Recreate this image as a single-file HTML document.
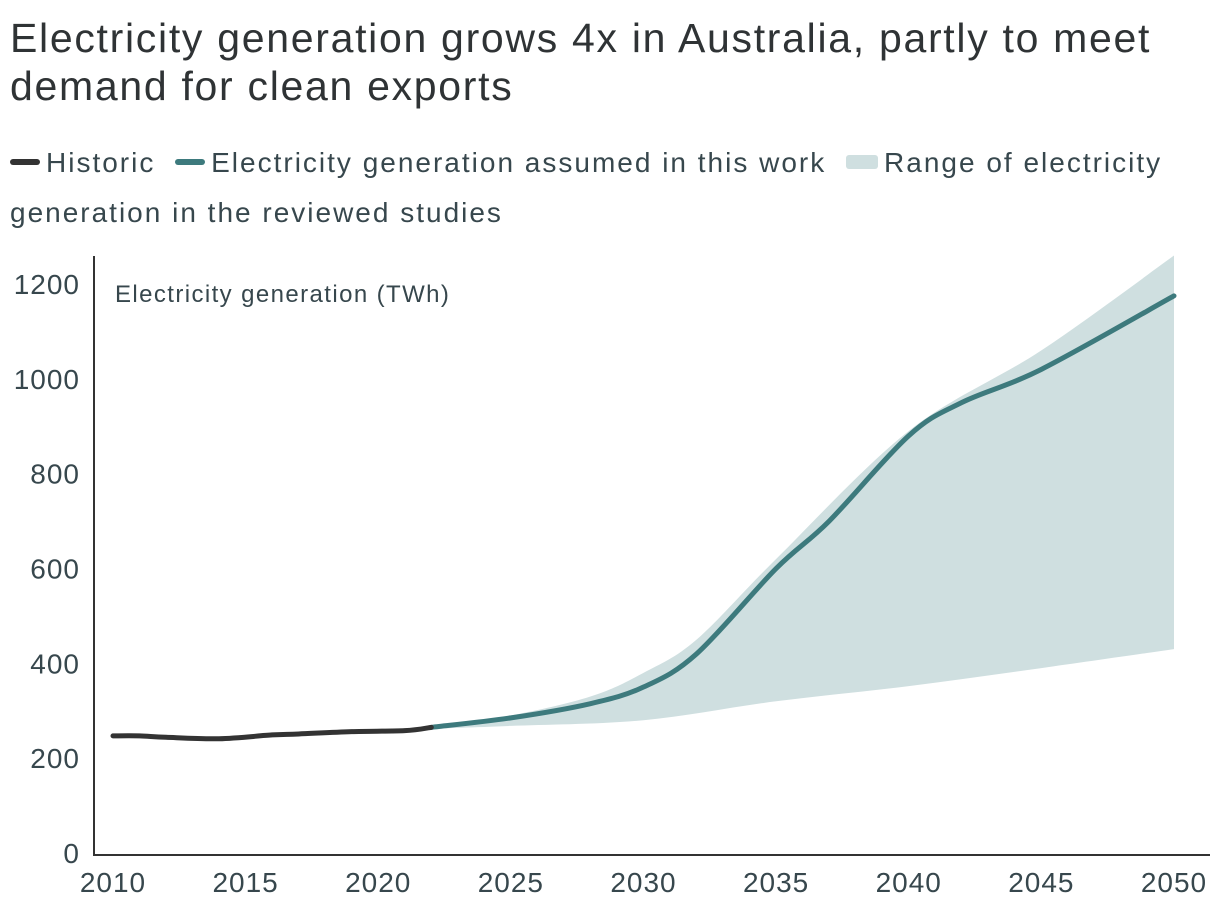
<!DOCTYPE html>
<html><head><meta charset="utf-8"><style>
body{margin:0;background:#fff;width:1220px;height:914px;overflow:hidden;font-family:"Liberation Sans",sans-serif;}
#title{position:absolute;left:10px;top:14px;font-size:41px;letter-spacing:1.7px;line-height:48px;color:#2f3335;margin:0;font-weight:normal;white-space:nowrap}
#legend{position:absolute;left:10px;top:138px;width:1200px;font-size:28px;letter-spacing:2px;line-height:50px;color:#37474d;}
.sw{display:inline-block;width:30px;height:6px;border-radius:3px;vertical-align:middle;margin-right:6px;position:relative;top:-3px}
.le{margin-right:10px}
</style></head><body>
<h1 id="title">Electricity generation grows 4x in Australia, partly to meet<br>demand for clean exports</h1>
<div id="legend">
<span class="le"><span class="sw" style="background:#333"></span>Historic</span>
<span class="le"><span class="sw" style="background:#3d7a7d"></span>Electricity generation assumed in this work</span>
<span><span class="sw" style="background:#cfdfe0;width:32px;height:14px"></span>Range of electricity generation in the reviewed studies</span>
</div>
<svg id="chart" width="1220" height="914" style="position:absolute;left:0;top:0"></svg>
<script>
const yTicks=[0,200,400,600,800,1000,1200];
const xTicks=[2010,2015,2020,2025,2030,2035,2040,2045,2050];
const histYears=[2010,2011,2012,2014,2016,2017,2019,2021,2022];
const histValues=[247,247,244,241,249,251,256,258,265];
const projYears=[2022,2025,2028,2030,2032,2035,2037,2040,2042,2045,2050];
const projValues=[265,285,315,350,420,600,700,880,950,1020,1175];
const upperYears=[2022,2025,2028,2030,2032,2035,2040,2045,2050];
const upperValues=[265,290,330,380,450,620,890,1060,1260];
const lowerYears=[2022,2025,2030,2035,2040,2045,2050];
const lowerValues=[262,268,280,320,352,390,430];

const NS="http://www.w3.org/2000/svg",svg=document.getElementById('chart');
const x=v=>113+(v-2010)*(1174-113)/40;
const y=v=>853-v*(853-284)/1200;
function mk(t,a){const e=document.createElementNS(NS,t);for(const k in a)e.setAttribute(k,a[k]);svg.appendChild(e);return e;}
function pts(xs,vs){return xs.map((d,i)=>[x(d),y(vs[i])]);}
function smooth(p,start){let d=start?'M'+p[0][0]+','+p[0][1]:'L'+p[0][0]+','+p[0][1];
for(let i=0;i<p.length-1;i++){const p0=p[i-1]||p[i],p1=p[i],p2=p[i+1],p3=p[i+2]||p2;
d+=' C'+(p1[0]+(p2[0]-p0[0])/6)+','+(p1[1]+(p2[1]-p0[1])/6)+' '+(p2[0]-(p3[0]-p1[0])/6)+','+(p2[1]-(p3[1]-p1[1])/6)+' '+p2[0]+','+p2[1];}
return d;}
const up=pts(upperYears,upperValues),lo=pts(lowerYears,lowerValues).reverse();
const band=mk('path',{d:smooth(up,true)+' '+smooth(lo,false)+' Z',fill:'#cfdfe0'});


const ax=mk('path',{d:'M94,256 V855 H1210',stroke:'#333',fill:'none','stroke-width':2});


yTicks.forEach(v=>{const t=mk('text',{x:80,y:y(v)+10,'text-anchor':'end','font-size':28,'letter-spacing':1,fill:'#37474d'});t.textContent=v;

});
xTicks.forEach(v=>{const t=mk('text',{x:x(v),y:892,'text-anchor':'middle','font-size':28,'letter-spacing':1,fill:'#37474d'});t.textContent=v;

});
const yt=mk('text',{x:115,y:302,'font-size':24,'letter-spacing':1.4,fill:'#37474d'});yt.textContent='Electricity generation (TWh)';


const pl=mk('path',{d:smooth(pts(projYears,projValues),true),stroke:'#3d7a7d','stroke-width':5,fill:'none','stroke-linecap':'round'});


const hl=mk('path',{d:smooth(pts(histYears,histValues),true),stroke:'#333','stroke-width':5,fill:'none','stroke-linecap':'round'});


</script>
</body></html>
